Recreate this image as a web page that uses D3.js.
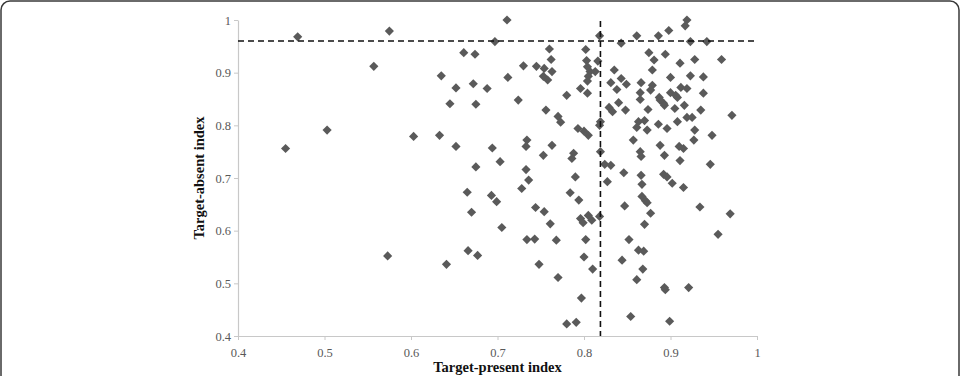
<!DOCTYPE html>
<html>
<head>
<meta charset="utf-8">
<script src="https://cdn.jsdelivr.net/npm/d3@7"></script>
<style>
  body { margin: 0; background: #fff; }
</style>
</head>
<body>
<svg id="chart" width="961" height="376"></svg>
<script>
// target-present index (x) and target-absent index (y)
var presentIdx = [0.455,0.469,0.503,0.557,0.575,0.573,0.603,0.633,0.635,0.645,0.652,0.652,0.661,0.674,0.672,0.675,0.675,0.665,0.670,0.666,
  0.641,0.677,0.711,0.697,0.730,0.712,0.688,0.724,0.760,0.762,0.745,0.754,0.763,0.753,0.758,0.780,0.796,0.804,0.756,0.770,
  0.773,0.802,0.803,0.804,0.807,0.813,0.805,0.804,0.816,0.818,0.843,0.861,0.886,0.898,0.919,0.917,0.923,0.942,0.835,0.843,
  0.831,0.838,0.849,0.875,0.881,0.894,0.879,0.911,0.928,0.959,0.900,0.923,0.938,0.866,0.879,0.877,0.865,0.887,0.865,0.900,
  0.912,0.919,0.908,0.938,0.892,0.888,0.916,0.935,0.829,0.833,0.840,0.848,0.874,0.905,0.971,0.919,0.925,0.819,0.863,0.870,
  0.908,0.886,0.896,0.861,0.873,0.928,0.948,0.818,0.793,0.800,0.805,0.857,0.927,0.888,0.910,0.915,0.865,0.866,0.893,0.911,
  0.946,0.819,0.824,0.831,0.846,0.866,0.892,0.896,0.867,0.902,0.915,0.827,0.694,0.734,0.733,0.763,0.753,0.703,0.733,0.736,
  0.728,0.788,0.786,0.790,0.784,0.794,0.693,0.699,0.744,0.754,0.761,0.705,0.796,0.805,0.809,0.734,0.743,0.768,0.748,0.770,
  0.818,0.799,0.802,0.800,0.810,0.797,0.780,0.791,0.847,0.867,0.871,0.873,0.877,0.870,0.934,0.969,0.955,0.852,0.863,0.869,
  0.844,0.868,0.861,0.893,0.894,0.921,0.854,0.899,0.906,0.893];
var absentIdx = [0.756,0.968,0.791,0.912,0.979,0.552,0.779,0.781,0.894,0.841,0.871,0.760,0.938,0.935,0.879,0.840,0.721,0.673,0.635,0.562,
  0.536,0.553,1.000,0.959,0.913,0.891,0.870,0.848,0.945,0.925,0.912,0.908,0.902,0.893,0.886,0.857,0.870,0.861,0.829,0.817,
  0.806,0.944,0.923,0.911,0.902,0.902,0.893,0.884,0.922,0.970,0.956,0.970,0.970,0.980,1.000,0.989,0.959,0.959,0.905,0.889,
  0.881,0.868,0.878,0.938,0.924,0.935,0.905,0.918,0.925,0.925,0.891,0.894,0.892,0.881,0.876,0.867,0.862,0.853,0.849,0.862,
  0.872,0.870,0.853,0.861,0.842,0.848,0.838,0.829,0.834,0.826,0.843,0.829,0.830,0.832,0.819,0.815,0.815,0.807,0.807,0.809,
  0.807,0.802,0.794,0.796,0.791,0.791,0.781,0.800,0.794,0.789,0.781,0.772,0.772,0.762,0.760,0.756,0.750,0.741,0.743,0.733,
  0.726,0.750,0.726,0.724,0.710,0.705,0.707,0.702,0.688,0.690,0.682,0.693,0.757,0.772,0.760,0.762,0.743,0.731,0.716,0.696,
  0.680,0.747,0.737,0.702,0.672,0.658,0.667,0.655,0.644,0.636,0.613,0.606,0.623,0.629,0.620,0.583,0.584,0.582,0.536,0.511,
  0.627,0.615,0.583,0.550,0.527,0.472,0.423,0.426,0.647,0.665,0.657,0.653,0.633,0.612,0.645,0.632,0.593,0.583,0.563,0.561,
  0.544,0.527,0.507,0.492,0.488,0.492,0.437,0.428,0.857,0.838];

var xTicks = [0.4, 0.5, 0.6, 0.7, 0.8, 0.9, 1];
var yTicks = [0.4, 0.5, 0.6, 0.7, 0.8, 0.9, 1];
var cutPresent = 0.819;
var cutAbsent = 0.96;

var points = presentIdx.map(function(d, i) { return {x: d, y: absentIdx[i]}; });

var svg = d3.select("#chart");

// frame round the figure
svg.append("rect")
  .attr("x", 1).attr("y", 1)
  .attr("width", 958).attr("height", 400)
  .attr("rx", 9)
  .attr("fill", "none")
  .attr("stroke", "#3a3a3a")
  .attr("stroke-width", 1.5);

var x = d3.scaleLinear().domain([0.4, 1]).range([238, 757]);
var y = d3.scaleLinear().domain([0.4, 1]).range([336, 20]);

var fmt = function(d) { return d === 1 ? "1" : d3.format(".1f")(d); };

var xAxis = svg.append("g")
  .attr("transform", "translate(0," + y(0.4) + ")")
  .call(d3.axisBottom(x).tickValues(xTicks).tickFormat(fmt).tickSize(4).tickSizeOuter(0));

var yAxis = svg.append("g")
  .attr("transform", "translate(" + x(0.4) + ",0)")
  .call(d3.axisLeft(y).tickValues(yTicks).tickFormat(fmt).tickSize(4).tickSizeOuter(0));

[xAxis, yAxis].forEach(function(a) {
  a.select(".domain").attr("stroke", "#c8c8c8").attr("stroke-width", 1.2);
  a.selectAll(".tick line").attr("stroke", "#c8c8c8");
  a.selectAll(".tick text")
    .attr("fill", "#595959")
    .style("font-family", "'Liberation Serif', 'DejaVu Serif', serif")
    .style("font-size", "12.5px");
});
xAxis.selectAll(".tick text").attr("dy", "1.1em");
yAxis.selectAll(".tick text").attr("x", -7);

// diamonds
svg.append("g")
  .selectAll("path")
  .data(points)
  .enter().append("path")
    .attr("d", d3.symbol().type(d3.symbolSquare).size(42))
    .attr("transform", function(d) { return "translate(" + x(d.x) + "," + y(d.y) + ") rotate(45)"; })
    .attr("fill", "#5a5a5a");

// cut-off lines
svg.append("line")
  .attr("x1", x(0.4)).attr("x2", x(1))
  .attr("y1", y(cutAbsent)).attr("y2", y(cutAbsent))
  .attr("stroke", "#111").attr("stroke-width", 1.6)
  .attr("stroke-dasharray", "6,4");

svg.append("line")
  .attr("x1", x(cutPresent)).attr("x2", x(cutPresent))
  .attr("y1", y(0.998)).attr("y2", y(0.4))
  .attr("stroke", "#111").attr("stroke-width", 1.6)
  .attr("stroke-dasharray", "6,4");

// axis titles
svg.append("text")
  .text("Target-present index")
  .attr("x", (x(0.4) + x(1)) / 2)
  .attr("y", 372)
  .attr("text-anchor", "middle")
  .style("font-family", "'Liberation Serif', 'DejaVu Serif', serif")
  .style("font-weight", "bold")
  .style("font-size", "14.5px")
  .attr("fill", "#111");

svg.append("text")
  .text("Target-absent index")
  .attr("transform", "translate(204," + (y(0.7)) + ") rotate(-90)")
  .attr("text-anchor", "middle")
  .style("font-family", "'Liberation Serif', 'DejaVu Serif', serif")
  .style("font-weight", "bold")
  .style("font-size", "14.5px")
  .attr("fill", "#111");
</script>
</body>
</html>
